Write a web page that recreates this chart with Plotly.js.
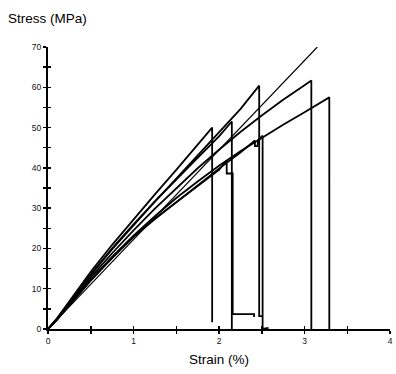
<!DOCTYPE html>
<html>
<head>
<meta charset="utf-8">
<script src="https://cdn.plot.ly/plotly-3.0.1.min.js"></script>
<style>
  html, body { margin: 0; padding: 0; background: #fff; }
  #chart { width: 396px; height: 374px; }
</style>
</head>
<body>
<div id="chart"></div>
<script>
// Tensile test curves: strain (%) vs stress (MPa), one array pair per specimen.
const strainA = [0, 0.1, 0.25, 0.5, 0.75, 1, 1.25, 1.5, 1.78, 1.92, 1.92];
const stressA = [0, 2.5, 6.9, 14.2, 20.9, 27.2, 33.4, 39.5, 46.4, 50, 1.7];

const strainB = [0, 0.1, 0.25, 0.5, 0.75, 1, 1.25, 1.5, 1.75, 2, 2.15, 2.15];
const stressB = [0, 2.4, 6.6, 13.6, 20, 26, 31.7, 37.2, 42.5, 47.8, 51.5, 0];

const strainC = [0, 0.1, 0.25, 0.5, 0.75, 1, 1.25, 1.5, 1.75, 2, 2.25, 2.47, 2.47, 2.51];
const stressC = [0, 2.4, 6.5, 13.4, 19.8, 25.8, 31.6, 37.3, 43, 48.7, 54.6, 60.4, 3.2, 3.2];

const strainD = [0, 0.1, 0.25, 0.5, 0.75, 1, 1.25, 1.5, 1.75, 2, 2.25, 2.5, 2.75, 3, 3.08, 3.08];
const stressD = [0, 2.3, 6.3, 12.8, 18.8, 24.5, 29.9, 35, 39.9, 44.5, 48.9, 53, 56.9, 60.5, 61.7, 0];

const strainE = [0, 0.1, 0.25, 0.5, 0.75, 1, 1.25, 1.5, 1.75, 2, 2.25, 2.5, 2.75, 3, 3.15, 3.29, 3.29];
const stressE = [0, 2.2, 6, 12.2, 17.9, 23.2, 28, 32.5, 36.6, 40.5, 44.1, 47.5, 50.7, 53.8, 55.7, 57.5, 0];

const strainF = [0, 0.1, 0.25, 0.5, 0.75, 1, 1.25, 1.5, 1.75, 2, 2.25, 2.42, 2.42, 2.45, 2.46, 2.51, 2.51, 2.58];
const stressF = [0, 2.2, 5.9, 12, 17.6, 22.8, 27.3, 31.5, 35.7, 39.8, 43.8, 46.8, 45.4, 45.4, 47, 48, 0, 0.3];

const strainG = [0, 0.1, 0.25, 0.5, 0.75, 1, 1.25, 1.5, 1.75, 2, 2.09, 2.09, 2.16, 2.16, 2.41, 2.41];
const stressG = [0, 2.2, 6, 12.2, 17.8, 23, 27.4, 31.5, 35.5, 39.5, 41.8, 38.6, 38.6, 3.7, 3.7, 3.0];

// Linear reference (modulus) line
const strainRef = [0, 3.15];
const stressRef = [0, 70];

// Axis ticks
const xTickVals = [0, 0.5, 1, 1.5, 2, 2.5, 3, 3.5, 4];
const xTickText = ['0', '', '1', '', '2', '', '3', '', '4'];
const yTickVals = [0, 5, 10, 15, 20, 25, 30, 35, 40, 45, 50, 55, 60, 65, 70];
const yTickText = ['0', '', '10', '', '20', '', '30', '', '40', '', '50', '', '60', '', '70'];

const curves = [
  [strainA, stressA], [strainB, stressB], [strainC, stressC], [strainD, stressD],
  [strainE, stressE], [strainF, stressF], [strainG, stressG]
];

const traces = curves.map(([x, y]) => ({
  x, y, type: 'scatter', mode: 'lines',
  line: { color: '#000', width: 1.8 },
  hoverinfo: 'skip', showlegend: false
}));
traces.push({
  x: strainRef, y: stressRef, type: 'scatter', mode: 'lines',
  line: { color: '#000', width: 1.2 },
  hoverinfo: 'skip', showlegend: false
});
// empty trace so the overlay axes (inner tick halves) get drawn
traces.push({ x: [], y: [], xaxis: 'x2', yaxis: 'y2', type: 'scatter', mode: 'lines', showlegend: false, hoverinfo: 'skip' });

const tickFont = { family: 'Liberation Sans, Arial, sans-serif', size: 8.5, color: '#111' };

const layout = {
  width: 396, height: 374,
  margin: { l: 48, r: 6, t: 47, b: 45 },
  paper_bgcolor: '#fff', plot_bgcolor: '#fff',
  showlegend: false,
  title: {
    text: 'Stress (MPa)',
    font: { family: 'Liberation Sans, Arial, sans-serif', size: 13.5, color: '#000' },
    xref: 'container', yref: 'container',
    x: 8 / 396, xanchor: 'left', y: 1 - 18 / 374, yanchor: 'middle'
  },
  xaxis: {
    range: [0, 4], showgrid: false, zeroline: false,
    showline: true, linecolor: '#000', linewidth: 2,
    tickmode: 'array', tickvals: xTickVals, ticktext: xTickText,
    ticks: 'outside', ticklen: 3, tickwidth: 1.5, tickcolor: '#000',
    tickfont: tickFont,
    title: { text: 'Strain (%)', font: { family: 'Liberation Sans, Arial, sans-serif', size: 13.5, color: '#000' }, standoff: 9 }
  },
  yaxis: {
    range: [0, 70], showgrid: false, zeroline: false,
    showline: true, linecolor: '#000', linewidth: 2,
    tickmode: 'array', tickvals: yTickVals, ticktext: yTickText,
    ticks: 'outside', ticklen: 3, tickwidth: 1.5, tickcolor: '#000',
    tickfont: tickFont
  },
  xaxis2: {
    range: [0, 4], overlaying: 'x', showgrid: false, zeroline: false, showline: false,
    tickmode: 'array', tickvals: xTickVals, showticklabels: false,
    ticks: 'inside', ticklen: 3, tickwidth: 1.5, tickcolor: '#000'
  },
  yaxis2: {
    range: [0, 70], overlaying: 'y', showgrid: false, zeroline: false, showline: false,
    tickmode: 'array', tickvals: yTickVals, showticklabels: false,
    ticks: 'inside', ticklen: 3, tickwidth: 1.5, tickcolor: '#000'
  }
};

Plotly.newPlot('chart', traces, layout, { staticPlot: true, displayModeBar: false });
</script>
</body>
</html>
